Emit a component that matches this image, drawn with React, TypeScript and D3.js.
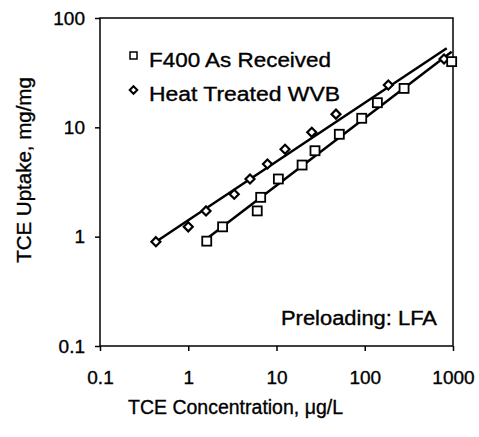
import React, { useEffect, useRef } from "react";
import * as d3 from "d3";

// F400 As Received (squares)
const f400Conc = [1.62, 2.45, 6.05, 6.62, 10.5, 19.5, 27.3, 51.5, 92.4, 139, 279, 966];
const f400Uptake = [0.91, 1.23, 1.72, 2.29, 3.37, 4.52, 6.11, 8.64, 12.1, 16.8, 22.7, 39.9];

// Heat Treated WVB (diamonds)
const wvbConc = [0.43, 1.0, 1.59, 3.32, 5.01, 7.9, 12.5, 25.1, 47.2, 185, 791];
const wvbUptake = [0.9, 1.23, 1.72, 2.44, 3.37, 4.62, 6.3, 9.0, 13.2, 24.4, 42.2];

// fitted lines (end points)
const f400FitConc = [1.55, 966];
const f400FitUptake = [0.93, 49.2];
const wvbFitConc = [0.43, 849];
const wvbFitUptake = [0.9, 52.8];

const xTicks = [0.1, 1, 10, 100, 1000];
const yTicks = [0.1, 1, 10, 100];

const W = 479;
const H = 437;
const margin = { left: 100, right: 26, top: 18, bottom: 91 };
const FONT = "'Liberation Sans', Arial, sans-serif";

const fmt = (d: number) => (d < 1 ? String(d) : d3.format("d")(d));

// shared text look (scanned Arial looks a little heavier)
const txt = {
  fontFamily: FONT,
  fill: "#000",
  stroke: "#000",
  strokeWidth: 0.35,
};

const App = () => {
  const xAxisRef = useRef<SVGGElement>(null);
  const yAxisRef = useRef<SVGGElement>(null);

  const x = d3
    .scaleLog()
    .domain([0.1, 1000])
    .range([margin.left, W - margin.right]);
  const y = d3
    .scaleLog()
    .domain([0.1, 100])
    .range([H - margin.bottom, margin.top]);

  useEffect(() => {
    document.body.style.margin = "0";
    const xa = d3
      .axisBottom(x)
      .tickValues(xTicks)
      .tickSize(5)
      .tickPadding(20)
      .tickFormat((d) => fmt(+d));
    const ya = d3
      .axisLeft(y)
      .tickValues(yTicks)
      .tickSize(5)
      .tickPadding(10)
      .tickFormat((d) => fmt(+d));
    const gx = d3.select(xAxisRef.current).call(xa as any);
    const gy = d3.select(yAxisRef.current).call(ya as any);
    [gx, gy].forEach((g) => {
      g.select(".domain").remove();
      g.selectAll(".tick line").attr("stroke", "#000").attr("stroke-width", 1.5);
      g.selectAll(".tick text")
        .attr("fill", "#000")
        .attr("stroke", "#000")
        .attr("stroke-width", 0.35)
        .style("font-family", FONT)
        .style("font-size", "19px");
    });
  }, []);

  const line = d3
    .line<[number, number]>()
    .x((d) => x(d[0]))
    .y((d) => y(d[1]));

  const f400Pts = f400Conc.map((c, i) => [c, f400Uptake[i]] as [number, number]);
  const wvbPts = wvbConc.map((c, i) => [c, wvbUptake[i]] as [number, number]);
  const f400Fit = f400FitConc.map((c, i) => [c, f400FitUptake[i]] as [number, number]);
  const wvbFit = wvbFitConc.map((c, i) => [c, wvbFitUptake[i]] as [number, number]);

  const diamond = (cx: number, cy: number, r: number) =>
    `M${cx},${cy - r}L${cx + r},${cy}L${cx},${cy + r}L${cx - r},${cy}Z`;

  const plotW = W - margin.left - margin.right;
  const plotH = H - margin.top - margin.bottom;

  return (
    <svg
      width={W}
      height={H}
      style={{ position: "absolute", left: 0, top: 0, background: "#fff" }}
    >
      <rect x={0} y={0} width={W} height={H} fill="#fff" />
      <rect
        x={margin.left}
        y={margin.top}
        width={plotW}
        height={plotH}
        fill="none"
        stroke="#000"
        strokeWidth={1.5}
      />
      <g ref={xAxisRef} transform={`translate(0,${H - margin.bottom})`} />
      <g ref={yAxisRef} transform={`translate(${margin.left},0)`} />

      {/* fitted lines */}
      <path d={line(wvbFit) || ""} fill="none" stroke="#000" strokeWidth={2.5} />
      <path d={line(f400Fit) || ""} fill="none" stroke="#000" strokeWidth={2.5} />

      {/* markers */}
      {wvbPts.map((d, i) => (
        <path
          key={"w" + i}
          d={diamond(x(d[0]), y(d[1]), 4.5)}
          fill="#fff"
          stroke="#000"
          strokeWidth={2.2}
        />
      ))}
      {f400Pts.map((d, i) => (
        <rect
          key={"f" + i}
          x={x(d[0]) - 4.5}
          y={y(d[1]) - 4.5}
          width={9}
          height={9}
          fill="#fff"
          stroke="#000"
          strokeWidth={1.8}
        />
      ))}

      {/* legend */}
      <rect x={130} y={52} width={7} height={7} fill="#fff" stroke="#000" strokeWidth={1.5} />
      <text
        x={149}
        y={67}
        fontSize={20}
        textLength={182}
        lengthAdjust="spacingAndGlyphs"
        {...txt}
      >
        F400 As Received
      </text>
      <path d={diamond(133.5, 90, 3.8)} fill="#fff" stroke="#000" strokeWidth={2} />
      <text
        x={149}
        y={101}
        fontSize={20}
        textLength={191}
        lengthAdjust="spacingAndGlyphs"
        {...txt}
      >
        Heat Treated WVB
      </text>

      <text
        x={281}
        y={325}
        fontSize={19.5}
        textLength={156}
        lengthAdjust="spacingAndGlyphs"
        {...txt}
      >
        Preloading: LFA
      </text>

      {/* axis titles */}
      <text
        x={128}
        y={414}
        fontSize={20}
        textLength={215}
        lengthAdjust="spacingAndGlyphs"
        {...txt}
      >
        TCE Concentration, μg/L
      </text>
      <text
        transform="translate(31,170) rotate(-90)"
        textAnchor="middle"
        fontSize={20.5}
        {...txt}
      >
        TCE Uptake, mg/mg
      </text>
    </svg>
  );
};

export default App;
